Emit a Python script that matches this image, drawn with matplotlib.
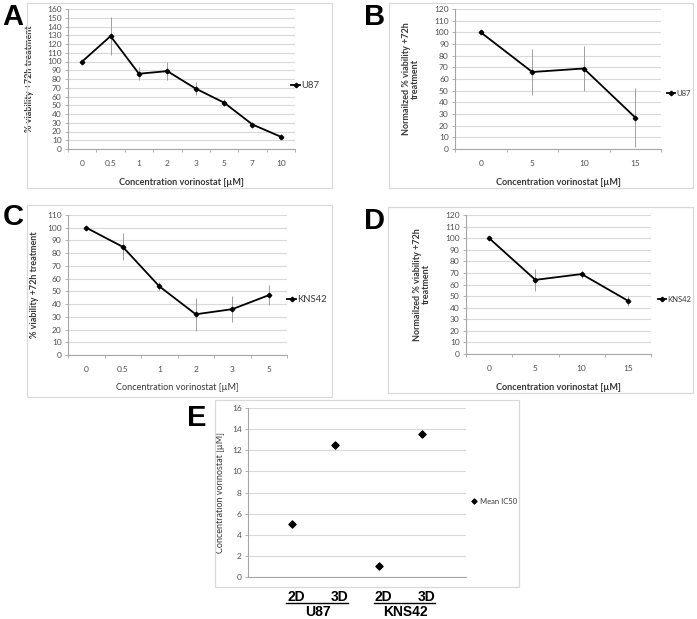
import numpy as np
import matplotlib
matplotlib.use('Agg')
import matplotlib.pyplot as plt
from matplotlib.patches import Rectangle
from matplotlib.lines import Line2D

plt.rcParams['font.family'] = ['Lato', 'DejaVu Sans']

# ---- data ----
a_doses = ['0', '0.5', '1', '2', '3', '5', '7', '10']
a_vals = [100, 129, 86, 89, 69, 53, 28, 14]
a_errs = [0, 22, 7.5, 10, 7.5, 4, 2.5, 3]

b_doses = ['0', '5', '10', '15']
b_vals = [100, 66, 69, 27]
b_errs = [0, 20, 19, 25]

c_doses = ['0', '0.5', '1', '2', '3', '5']
c_vals = [100, 85, 54, 32, 36, 47]
c_errs = [0, 10.5, 3, 13, 10, 8]

d_doses = ['0', '5', '10', '15']
d_vals = [100, 64, 69, 46]
d_errs = [0, 9.5, 3, 4.5]

e_x = [1, 2, 3, 4]
e_ic50 = [5, 12.5, 1, 13.5]
e_dims = ['2D', '3D', '2D', '3D']
e_lines = ['U87', 'KNS42']

W, H = 697, 619
fig = plt.figure(figsize=(W / 100, H / 100), dpi=100)

GRID = '#d9d9d9'
AXC = '#a6a6a6'
TXT = '#505050'
LAB = '#383838'


def px_rect(x0, y0, x1, y1):
    return [x0 / W, 1 - y1 / H, (x1 - x0) / W, (y1 - y0) / H]


def frame(x0, y0, x1, y1):
    fig.patches.append(Rectangle((x0 / W, 1 - y1 / H), (x1 - x0) / W, (y1 - y0) / H,
                                 transform=fig.transFigure, fill=False,
                                 edgecolor=GRID, lw=0.9))


def to_axes(ax_px, x, y):
    x0, y0, x1, y1 = ax_px
    return (x - x0) / (x1 - x0), (y1 - y) / (y1 - y0)


def letter(ch, x, y):
    fig.text(x / W, 1 - y / H, ch, fontsize=21, fontweight='bold',
             family='Liberation Sans', va='top', ha='left')


def style_axes(ax, ymax, ystep):
    ax.set_ylim(0, ymax)
    ax.set_yticks(np.arange(0, ymax + 0.1, ystep))
    ax.yaxis.grid(True, color=GRID, lw=0.8)
    ax.set_axisbelow(True)
    for s in ['top', 'right']:
        ax.spines[s].set_visible(False)
    for s in ['left', 'bottom']:
        ax.spines[s].set_color(AXC)
        ax.spines[s].set_linewidth(0.8)
    ax.tick_params(axis='y', labelsize=6, labelcolor=TXT, color=AXC,
                   length=2.5, width=0.6, pad=2)


def line_panel(ax_px, doses, vals, errs, ymax, ylabel, leg, leg_px, leg_fs,
               leg_hl, ylab_x, xlab_y, xlab_weight='bold'):
    ax = fig.add_axes(px_rect(*ax_px))
    n = len(doses)
    x = np.arange(n)
    ax.errorbar(x, vals, yerr=errs, fmt='none', ecolor='#a0a0a0', elinewidth=0.7,
                capsize=0)
    ax.plot(x, vals, color='black', lw=1.3, marker='D', markersize=2.3, label=leg)
    ax.set_xlim(-0.5, n - 0.5)
    ax.set_xticks(x)
    ax.set_xticklabels(doses)
    ax.set_xticks(np.arange(n + 1) - 0.5, minor=True)
    ax.tick_params(axis='x', which='major', length=0, labelsize=6,
                   labelcolor=TXT, pad=8)
    ax.tick_params(axis='x', which='minor', length=2.5, color=AXC, width=0.6)
    style_axes(ax, ymax, 10)
    ax.set_ylabel(ylabel, fontsize=6.5, fontweight='bold', color=LAB,
                  linespacing=1.0)
    ax.set_xlabel('Concentration vorinostat [\u00b5M]', fontsize=6.6,
                  fontweight=xlab_weight, color=LAB)
    cy = (ax_px[1] + ax_px[3]) / 2
    ax.yaxis.set_label_coords(*to_axes(ax_px, ylab_x, cy))
    cx = (ax_px[0] + ax_px[2]) / 2
    ax.xaxis.set_label_coords(*to_axes(ax_px, cx, xlab_y))
    lx, ly = to_axes(ax_px, *leg_px)
    ax.legend(loc='center left', bbox_to_anchor=(lx, ly), frameon=False,
              fontsize=leg_fs, handlelength=leg_hl, handletextpad=0.1,
              borderpad=0, borderaxespad=0, labelcolor=LAB)
    return ax


# Panel A
frame(27, 3, 332, 188)
line_panel((68, 9, 295, 149), a_doses, a_vals, a_errs, 160,
           '% viability +72h treatment', 'U87', (291, 86), 6.8, 1.0, 34, 178)
letter('A', 2, 3)

# Panel B
frame(389, 3, 693, 188)
line_panel((455, 9, 661, 149), b_doses, b_vals, b_errs, 120,
           'Normailzed % viability +72h\ntreatment', 'U87', (667, 93), 5.5, 1.1,
           420, 178)
letter('B', 364, 3)

# Panel C
frame(27, 205, 332, 397)
line_panel((68, 215, 287, 355), c_doses, c_vals, c_errs, 110,
           '% viability +72h treatment', 'KNS42', (287, 300), 6.8, 1.0, 39, 383,
           xlab_weight='normal')
letter('C', 3, 203)

# Panel D
frame(388, 207, 693, 393)
line_panel((466, 215, 651, 354), d_doses, d_vals, d_errs, 120,
           'Normailzed % viability +72h\ntreatment', 'KNS42', (658, 299), 5.5, 1.1,
           431, 383)
letter('D', 364, 207)

# Panel E
frame(215, 400, 519, 587)
e_px = (248, 408, 466, 577)
ax = fig.add_axes(px_rect(*e_px))
ax.scatter(e_x, e_ic50, marker='D', s=13, color='black', label='Mean IC50',
           zorder=3)
ax.set_xlim(0, 5)
ax.set_xticks([])
style_axes(ax, 16, 2)
ax.set_ylabel('Concentration vorinostat [\u00b5M]', fontsize=6.5, color=LAB)
ax.yaxis.set_label_coords(*to_axes(e_px, 225, (e_px[1] + e_px[3]) / 2))
lx, ly = to_axes(e_px, 472, 501)
ax.legend(loc='center left', bbox_to_anchor=(lx, ly), frameon=False, fontsize=5.5,
          handlelength=0.6, handletextpad=0.4, borderpad=0, borderaxespad=0,
          markerscale=0.7, labelcolor=LAB)

tr = ax.get_xaxis_transform()
for xv, dim in zip(e_x, e_dims):
    ax.text(xv + 0.1, -0.12, dim, transform=tr, ha='center', va='center',
            fontsize=10, fontweight='bold', family='Liberation Sans', clip_on=False)
for i, name in enumerate(e_lines):
    xa, xb = e_x[2 * i], e_x[2 * i + 1]
    ax.add_line(Line2D([xa - 0.12, xb + 0.3], [-0.155, -0.155], transform=tr,
                       color='black', lw=1.0, clip_on=False))
    ax.text((xa + xb) / 2 + 0.1, -0.205, name, transform=tr, ha='center', va='center',
            fontsize=10, fontweight='bold', family='Liberation Sans', clip_on=False)
letter('E', 187, 404)

fig.savefig('out.png', dpi=100)
